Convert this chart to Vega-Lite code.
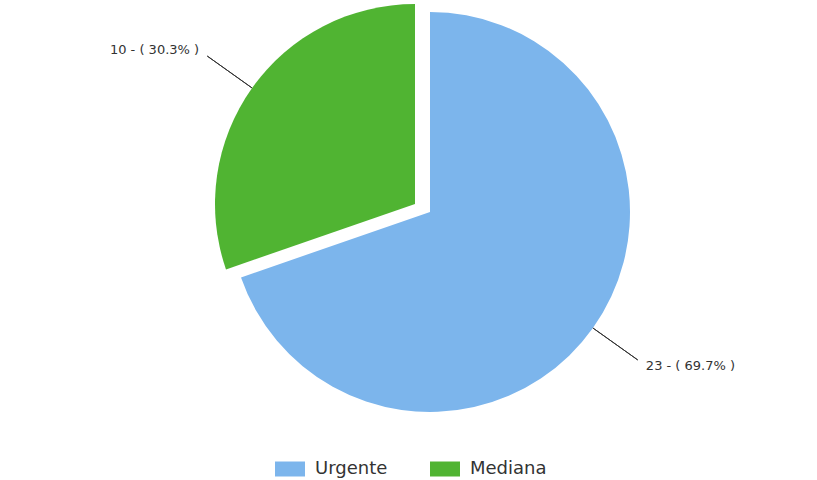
{
  "$schema": "https://vega.github.io/schema/vega-lite/v6.json",
  "width": 774,
  "height": 424,
  "autosize": "none",
  "padding": {"left": 43, "top": 0, "right": 0, "bottom": 56},
  "background": "white",
  "config": {"view": {"stroke": null}, "font": "DejaVu Sans"},
  "data": {
    "values": [
      {"prioridad": "Urgente", "count": 23, "etiqueta": "23 - ( 69.7% )"},
      {"prioridad": "Mediana", "count": 10, "etiqueta": "10 - ( 30.3% )"}
    ]
  },
  "transform": [
    {"stack": "count", "groupby": [], "sort": [{"field": "count", "order": "descending"}], "as": ["t0", "t1"]},
    {"calculate": "(datum.t0 + datum.t1) / 2", "as": "mid"}
  ],
  "encoding": {
    "color": {
      "field": "prioridad",
      "type": "nominal",
      "scale": {"domain": ["Urgente", "Mediana"], "range": ["#7cb5ec", "#50b432"]},
      "legend": {
        "title": null,
        "orient": "none",
        "direction": "horizontal",
        "legendX": 232,
        "legendY": 454,
        "symbolType": "M-1,-0.5H1V0.5H-1Z",
        "symbolSize": 900,
        "symbolStrokeWidth": 0,
        "symbolOpacity": 1,
        "labelFont": "DejaVu Sans",
        "labelFontSize": 18,
        "labelColor": "#333333",
        "labelOffset": 10,
        "columnPadding": 42
      }
    }
  },
  "layer": [
    {
      "transform": [{"filter": "datum.prioridad == 'Urgente'"}],
      "mark": {"type": "arc", "outerRadius": 200},
      "encoding": {
        "theta": {"field": "t0", "type": "quantitative", "scale": {"domain": [0, 33]}},
        "theta2": {"field": "t1"}
      }
    },
    {
      "transform": [{"filter": "datum.prioridad == 'Mediana'"}],
      "mark": {"type": "arc", "outerRadius": 200, "xOffset": -15, "yOffset": -8},
      "encoding": {
        "theta": {"field": "t0", "type": "quantitative", "scale": {"domain": [0, 33]}},
        "theta2": {"field": "t1"}
      }
    },
    {
      "transform": [{"filter": "datum.prioridad == 'Urgente'"}],
      "mark": {"type": "arc", "radius": 200, "radius2": 255, "stroke": "#333333", "strokeWidth": 1, "fill": null},
      "encoding": {
        "theta": {"field": "mid", "type": "quantitative", "scale": {"domain": [0, 33]}},
        "theta2": {"field": "mid"}
      }
    },
    {
      "transform": [{"filter": "datum.prioridad == 'Mediana'"}],
      "mark": {"type": "arc", "radius": 200, "radius2": 255, "stroke": "#333333", "strokeWidth": 1, "fill": null, "xOffset": -15, "yOffset": -8},
      "encoding": {
        "theta": {"field": "mid", "type": "quantitative", "scale": {"domain": [0, 33]}},
        "theta2": {"field": "mid"}
      }
    },
    {
      "transform": [{"filter": "datum.prioridad == 'Urgente'"}],
      "mark": {"type": "text", "radius": 265, "align": "left", "baseline": "middle", "fontSize": 13},
      "encoding": {
        "theta": {"field": "mid", "type": "quantitative", "scale": {"domain": [0, 33]}},
        "text": {"field": "etiqueta"},
        "color": {"value": "#333333"}
      }
    },
    {
      "transform": [{"filter": "datum.prioridad == 'Mediana'"}],
      "mark": {"type": "text", "radius": 265, "align": "right", "baseline": "middle", "fontSize": 13, "xOffset": -15, "yOffset": -8},
      "encoding": {
        "theta": {"field": "mid", "type": "quantitative", "scale": {"domain": [0, 33]}},
        "text": {"field": "etiqueta"},
        "color": {"value": "#333333"}
      }
    }
  ]
}
